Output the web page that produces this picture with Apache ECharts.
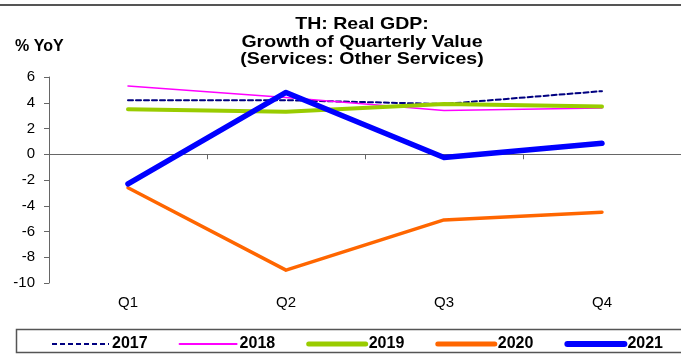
<!DOCTYPE html>
<html><head><meta charset="utf-8">
<script src="https://cdn.jsdelivr.net/npm/echarts@6/dist/echarts.min.js"></script>
<style>html,body{margin:0;padding:0;background:#fff}#c{width:681px;height:361px}</style>
</head><body><div id="c"></div>
<script>
const categories = ['Q1','Q2','Q3','Q4'];
const s2017 = [4.2, 4.2, 3.9, 4.9];
const s2018 = [5.3, 4.4, 3.4, 3.6];
const s2019 = [3.5, 3.3, 3.9, 3.7];
const s2020 = [-2.6, -9.0, -5.1, -4.5];
const s2021 = [-2.3, 4.8, -0.25, 0.85];
const yTicks = [-10, -8, -6, -4, -2, 0, 2, 4, 6];
const titleText = 'TH: Real GDP:\nGrowth of Quarterly Value\n(Services: Other Services)';

const chart = echarts.init(document.getElementById('c'));
const F = 'Liberation Sans, Arial, sans-serif';
const styles = {
  '2017': {color:'#000080', width:2, type:[5,3]},
  '2018': {color:'#FF00FF', width:1.5, type:'solid'},
  '2019': {color:'#99CC00', width:4, type:'solid'},
  '2020': {color:'#FF6600', width:3.5, type:'solid'},
  '2021': {color:'#0000FF', width:5.5, type:'solid'}
};
function line(name, data, z) {
  const s = styles[name];
  return {name, type:'line', data, symbol:'none', showSymbol:false, xAxisIndex:0, z,
    lineStyle:{color:s.color, width:s.width, type:s.type, cap:'round', join:'round'}, itemStyle:{color:s.color}};
}
const legendNames = ['2017','2018','2019','2020','2021'];
const legendWidths = {'2017':2, '2018':2, '2019':5, '2020':5, '2021':6};
chart.setOption({
  animation:false,
  textStyle:{fontFamily:F},
  grid:{left:49, right:-4, top:77, bottom:78},
  legend:{left:46, top:331, itemWidth:57, itemHeight:12, itemGap:31,
    itemStyle:{opacity:0},
    textStyle:{fontFamily:F, fontSize:16, fontWeight:'bold', color:'#000', padding:[0,0,0,-2]},
    data:legendNames.map(n => ({name:n, lineStyle:{width:legendWidths[n], type:styles[n].type, color:styles[n].color, cap: n === '2017' ? 'butt' : 'round'}}))},
  xAxis:[
    {type:'category', data:categories, boundaryGap:true,
     axisLine:{onZero:true, lineStyle:{color:'#666', width:1}},
     axisTick:{show:true, length:5, lineStyle:{color:'#666'}},
     axisLabel:{show:false}},
    {type:'category', data:categories, boundaryGap:true, position:'bottom',
     axisLine:{show:false, onZero:false}, axisTick:{show:false},
     axisLabel:{fontFamily:F, fontSize:15, color:'#000', margin:12}}
  ],
  yAxis:{type:'value', min:yTicks[0], max:yTicks[yTicks.length-1], interval:2,
    axisLine:{show:true, lineStyle:{color:'#666'}},
    axisTick:{show:true, length:5, lineStyle:{color:'#666'}},
    splitLine:{show:false},
    axisLabel:{fontFamily:F, fontSize:15, color:'#000', margin:14},
    name:'% YoY', nameLocation:'end', nameGap:22,
    nameTextStyle:{fontFamily:F, fontSize:16, fontWeight:'bold', color:'#000', align:'left', padding:[0,0,0,-34]}},
  series:[
    line('2017', s2017, 1),
    line('2018', s2018, 2),
    line('2019', s2019, 3),
    line('2020', s2020, 4),
    line('2021', s2021, 5)
  ],
  graphic:[
    {type:'line', shape:{x1:0, y1:5, x2:681, y2:5}, style:{stroke:'#555', lineWidth:2}, silent:true},
    {type:'rect', shape:{x:16.5, y:329.5, width:680, height:23}, style:{fill:'none', stroke:'#555', lineWidth:1.5}, silent:true},
    {type:'text', x:362, y:16, scaleX:1.15, scaleY:1, silent:true,
     style:{text:titleText, fontFamily:F, fontSize:17, fontWeight:'bold', fill:'#000', align:'center', verticalAlign:'top', lineHeight:17.5}}
  ]
});
</script></body></html>
